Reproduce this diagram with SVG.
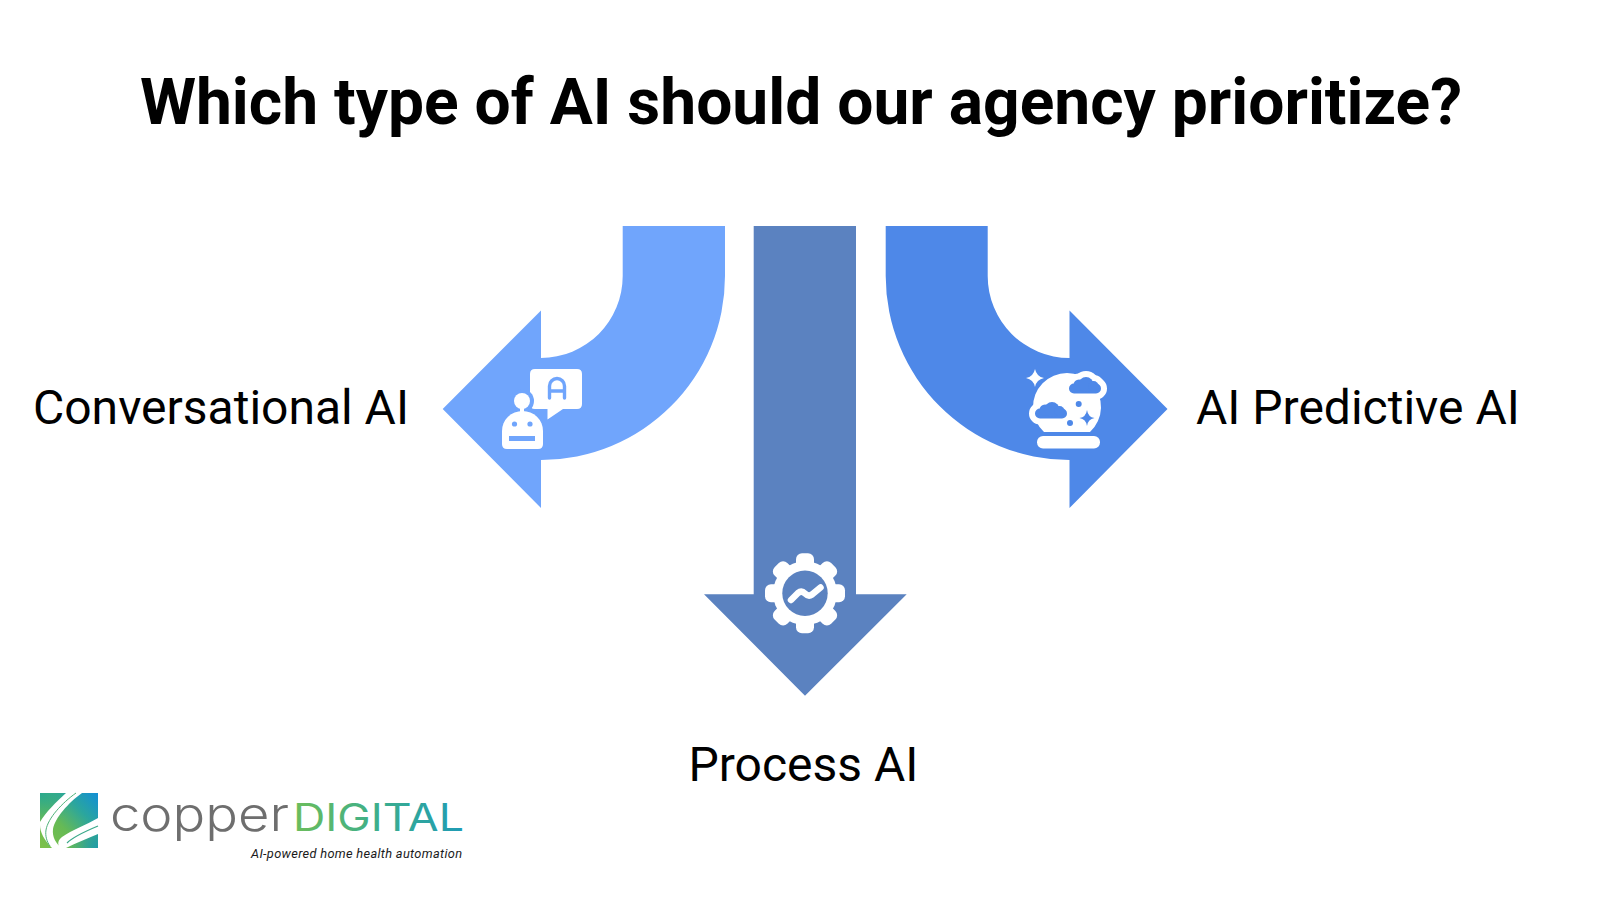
<svg xmlns="http://www.w3.org/2000/svg" width="1600" height="901" viewBox="0 0 1600 901">
<style>
text{font-family:Roboto,"Liberation Sans",sans-serif;fill:#000}
.title{font-size:64.100px;font-weight:700}
.lbl{font-size:48px}
.w{fill:#fff}
.lg{font-family:Inter,"Open Sans",sans-serif}
.co{fill:#fff;stroke:#fff;stroke-width:12;stroke-linejoin:round}
.ci{fill:#4e88e8}
</style>
<defs>
<linearGradient id="sq" x1="1" y1="0.05" x2="0" y2="0.95"><stop offset="0" stop-color="#1490d2"/><stop offset="0.3" stop-color="#2ba69d"/><stop offset="0.62" stop-color="#66ba55"/><stop offset="1" stop-color="#7cc04b"/></linearGradient>
<radialGradient id="tl" cx="0" cy="0" r="0.6"><stop offset="0" stop-color="#2aa98e"/><stop offset="1" stop-color="#2aa98e" stop-opacity="0"/></radialGradient>
<radialGradient id="br" cx="1" cy="1" r="0.55"><stop offset="0" stop-color="#1f9ba8"/><stop offset="1" stop-color="#1f9ba8" stop-opacity="0"/></radialGradient>
<linearGradient id="dg" gradientUnits="userSpaceOnUse" x1="294" y1="0" x2="463" y2="0"><stop offset="0" stop-color="#6cbd5b"/><stop offset="0.5" stop-color="#3cae8c"/><stop offset="1" stop-color="#1f9bb5"/></linearGradient>
<g id="cloud"><rect x="0" y="6.500" width="32" height="10" rx="5"/><circle cx="10" cy="8" r="5.500"/><circle cx="17" cy="7.500" r="7.500"/><circle cx="24.500" cy="9" r="5"/></g>
</defs>
<rect width="1600" height="901" fill="#fff"/>
<text class="title" x="801" y="123.500" text-anchor="middle">Which type of AI should our agency prioritize?</text>
<g id="connectors"></g>
<g id="node-conversational">
<path fill="#70a5fc" d="M622.700 226H725V276A184 184 0 0 1 541 460V508L442.700 409L541 310.500V358A82 82 0 0 0 622.700 276Z"/>
<path class="w" d="M535 369H577Q582 369 582 374V404Q582 409 577 409H563L547.500 419.500V409H535Q530 409 530 404V374Q530 369 535 369Z"/>
<path fill="none" stroke="#70a5fc" stroke-width="3.400" stroke-linecap="round" d="M549.500 398V386A7.500 7.500 0 0 1 564.500 386V398M549.500 391H564.500"/>
<circle cx="522" cy="401" r="12" fill="#70a5fc"/>
<circle class="w" cx="522" cy="401" r="8"/>
<rect class="w" x="520" y="405" width="4" height="10"/>
<path class="w" d="M502 431A20.500 20 0 0 1 543 431V444Q543 449 538 449H507Q502 449 502 444Z"/>
<circle cx="514.500" cy="424" r="2.600" fill="#70a5fc"/><circle cx="530" cy="424" r="2.600" fill="#70a5fc"/>
<rect x="509" y="436" width="26" height="5" fill="#70a5fc"/>
<text class="lbl" x="33" y="424">Conversational AI</text>
</g>
<g id="node-process">
<path fill="#5b82c0" d="M753.700 226H856V594.300H906.700L805 695.800L704 594.300H753.700Z"/>
<g class="w">
<circle cx="805" cy="593.300" r="32"/>
<rect x="796" y="553.300" width="18" height="20" rx="6"/>
<rect x="796" y="553.300" width="18" height="20" rx="6" transform="rotate(45 805 593.300)"/>
<rect x="796" y="553.300" width="18" height="20" rx="6" transform="rotate(90 805 593.300)"/>
<rect x="796" y="553.300" width="18" height="20" rx="6" transform="rotate(135 805 593.300)"/>
<rect x="796" y="553.300" width="18" height="20" rx="6" transform="rotate(180 805 593.300)"/>
<rect x="796" y="553.300" width="18" height="20" rx="6" transform="rotate(225 805 593.300)"/>
<rect x="796" y="553.300" width="18" height="20" rx="6" transform="rotate(270 805 593.300)"/>
<rect x="796" y="553.300" width="18" height="20" rx="6" transform="rotate(315 805 593.300)"/>
</g>
<circle cx="805" cy="593.300" r="22.700" fill="#5b82c0"/>
<path fill="none" stroke="#fff" stroke-width="6.500" stroke-linecap="round" stroke-linejoin="round" d="M791 600L798 593Q801.500 590 805 593.500Q808.500 597 812 594.500L820.500 587.500"/>
<text class="lbl" x="688.500" y="781">Process AI</text>
</g>
<g id="node-predictive">
<path fill="#4e88e8" d="M885.700 226H987.700V276A82 82 0 0 0 1069.500 358V310.500L1167.500 409L1069.500 508V460A184 184 0 0 1 885.700 276Z"/>
<path class="w" d="M1035 369Q1036.500 376.500 1044 378Q1036.500 379.500 1035 387Q1033.500 379.500 1026 378Q1033.500 376.500 1035 369Z"/>
<path class="w" d="M1044 432A34 34 0 1 1 1090 432Z"/>
<use href="#cloud" x="1069" y="377" class="co"/>
<use href="#cloud" x="1035" y="402" class="co"/>
<use href="#cloud" x="1069" y="377" class="ci"/>
<use href="#cloud" x="1035" y="402" class="ci"/>
<circle cx="1078.700" cy="404" r="3" fill="#4e88e8"/>
<circle cx="1070" cy="423" r="3" fill="#4e88e8"/>
<path fill="#4e88e8" d="M1087 410Q1088 417 1094.500 418Q1088 419 1087 426Q1086 419 1079.500 418Q1086 417 1087 410Z"/>
<rect class="w" x="1037" y="436" width="63" height="12.500" rx="6"/>
<text class="lbl" x="1196" y="424">AI Predictive AI</text>
</g>
<g id="logo">
<rect x="40" y="793" width="58" height="55" fill="url(#sq)"/>
<rect x="40" y="793" width="58" height="55" fill="url(#tl)"/>
<rect x="40" y="793" width="58" height="55" fill="url(#br)"/>
<path class="w" d="M66 793H82C68 803 55 818 53 829C52 837 56 844 62 848H52C44 840 40 832 40 825V822C46 812 56 802 66 793Z"/>
<path fill="none" stroke="#4fb27a" stroke-width="1" d="M76 793C62 803 48 818 46 830C45 836 47 842 50 846"/>
<path class="w" d="M98 818V834C88 838 76 843 66 848H60C57 844 58 840 62 837C72 830 86 825 98 818Z"/>
<path fill="none" stroke="#3aa98a" stroke-width="1.200" d="M98 826C86 831 74 836 67 843"/>
<text class="lg" x="110" y="831" font-size="47" font-weight="300" textLength="179" lengthAdjust="spacingAndGlyphs" style="fill:#6e6e6e">copper</text>
<text class="lg" x="293" y="831" font-size="37.500" font-weight="400" textLength="171" lengthAdjust="spacingAndGlyphs" style="fill:url(#dg)">DIGITAL</text>
<text x="251" y="858" font-size="12.800" font-style="italic" textLength="211" style="fill:#1a1a1a">AI-powered home health automation</text>
</g>
</svg>
